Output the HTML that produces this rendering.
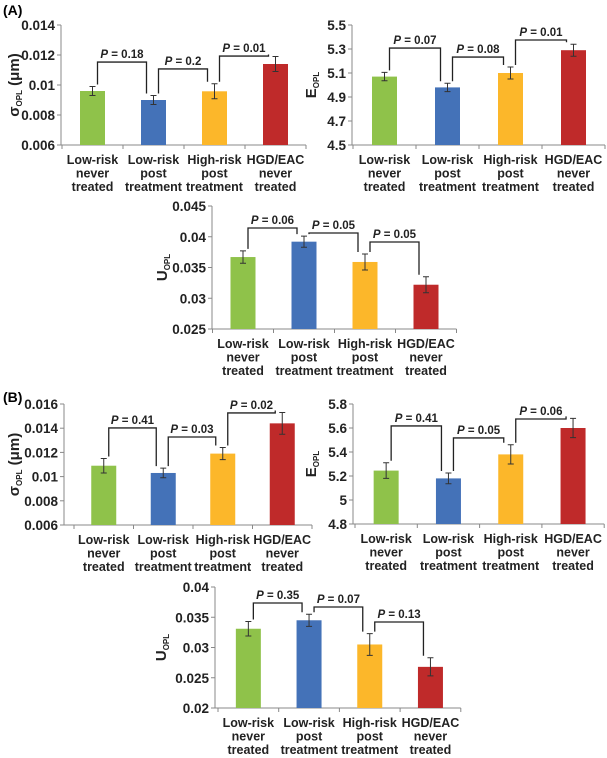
<!DOCTYPE html>
<html><head><meta charset="utf-8"><style>
html,body{margin:0;padding:0;background:#fff;}
svg{display:block;font-family:"Liberation Sans",Arial,sans-serif;}
</style></head><body>
<svg id="fig" width="607" height="758" viewBox="0 0 607 758" xmlns="http://www.w3.org/2000/svg">
<text x="3" y="15" font-size="14" font-weight="bold">(A)</text>
<text x="3" y="402" font-size="14" font-weight="bold">(B)</text>
</svg>
<script>
const categories = [["Low-risk","never","treated"],["Low-risk","post","treatment"],["High-risk","post","treatment"],["HGD/EAC","never","treated"]];
const colors = ["#8fc24a","#4472b8","#fcb72a","#bf2a2a"];
const a1Values = [0.0096,0.0090,0.00958,0.0114];
const a1Errors = [0.0003,0.0003,0.0005,0.0005];
const a1Ticks = ["0.006","0.008","0.01","0.012","0.014"];
const a1P = ["0.18","0.2","0.01"];
const a1BracketTops = [0.01153,0.01107,0.01193];
const a2Values = [5.07,4.98,5.10,5.29];
const a2Errors = [0.035,0.035,0.05,0.05];
const a2Ticks = ["4.5","4.7","4.9","5.1","5.3","5.5"];
const a2P = ["0.07","0.08","0.01"];
const a2BracketTops = [5.308,5.233,5.375];
const a3Values = [0.0367,0.0392,0.0359,0.0322];
const a3Errors = [0.001,0.0009,0.0013,0.0013];
const a3Ticks = ["0.025","0.03","0.035","0.04","0.045"];
const a3P = ["0.06","0.05","0.05"];
const a3BracketTops = [0.04142,0.04061,0.03915];
const b1Values = [0.0109,0.0103,0.0119,0.0144];
const b1Errors = [0.0006,0.0004,0.0005,0.0009];
const b1Ticks = ["0.006","0.008","0.01","0.012","0.014","0.016"];
const b1P = ["0.41","0.03","0.02"];
const b1BracketTops = [0.01402,0.01327,0.01526];
const b2Values = [5.245,5.18,5.38,5.60];
const b2Errors = [0.065,0.045,0.08,0.08];
const b2Ticks = ["4.8","5","5.2","5.4","5.6","5.8"];
const b2P = ["0.41","0.05","0.06"];
const b2BracketTops = [5.617,5.517,5.675];
const b3Values = [0.0331,0.0345,0.0305,0.0268];
const b3Errors = [0.0012,0.001,0.0018,0.0015];
const b3Ticks = ["0.02","0.025","0.03","0.035","0.04"];
const b3P = ["0.35","0.07","0.13"];
const b3BracketTops = [0.03736,0.0367,0.03421];

const NS="http://www.w3.org/2000/svg";
const svg=document.getElementById('fig');
function mk(tag,attrs,parent){const e=document.createElementNS(NS,tag);for(const k in attrs)e.setAttribute(k,attrs[k]);(parent||svg).appendChild(e);return e;}

function panel(id,cfg,values,errors,ticks,pv,tops){
  const g=mk('g',{});
  
  
  const tmin=parseFloat(ticks[0]),tmax=parseFloat(ticks[ticks.length-1]);
  const y=v=>cfg.bottom-(v-tmin)/(tmax-tmin)*(cfg.bottom-cfg.top);
  const cx=i=>cfg.band+cfg.bw*(i+0.5);
  const right=cfg.band+cfg.bw*4;
  const ya=mk('line',{x1:cfg.ax,y1:cfg.top,x2:cfg.ax,y2:cfg.bottom,stroke:'#888','stroke-width':1},g);
  
  const xa=mk('line',{x1:cfg.ax,y1:cfg.bottom,x2:right,y2:cfg.bottom,stroke:'#888','stroke-width':1},g);
  
  ticks.forEach(t=>{
    const v=parseFloat(t),yy=y(v);
    mk('line',{x1:cfg.ax-4,y1:yy,x2:cfg.ax,y2:yy,stroke:'#888'},g);
    const tx=mk('text',{x:cfg.ax-6,y:yy+5,'text-anchor':'end','font-size':13.5,'font-weight':'bold',fill:'#222'},g);
    
    tx.textContent=t;
  });
  for(let i=0;i<=4;i++){const xx=cfg.band+cfg.bw*i;mk('line',{x1:xx,y1:cfg.bottom,x2:xx,y2:cfg.bottom+4,stroke:'#888'},g);}
  const tt=mk('text',{transform:`translate(${cfg.tx},${(cfg.top+cfg.bottom)/2}) rotate(-90)`,'text-anchor':'middle','font-size':15,'font-weight':'bold',fill:'#222'},g);
  
  const s1=mk('tspan',{},tt);s1.textContent=cfg.sym;
  const s2=mk('tspan',{'font-size':8,dy:3},tt);s2.textContent='OPL';
  if(cfg.unit){const s3=mk('tspan',{dy:-3},tt);s3.textContent=' (μm)';}
  values.forEach((v,i)=>{
    const b=mk('rect',{x:cx(i)-12.5,y:y(v),width:25,height:cfg.bottom-y(v),fill:colors[i]},g);
    
    const e=errors[i],x=cx(i);
    const eb=mk('path',{d:`M${x},${y(v+e)}V${y(v-e)}M${x-3},${y(v+e)}H${x+3}M${x-3},${y(v-e)}H${x+3}`,stroke:'#333','stroke-width':1,fill:'none'},g);
    
    categories[i].forEach((l,j)=>{
      const t=mk('text',{x:x,y:cfg.bottom+19+j*13.5,'text-anchor':'middle','font-size':12.5,'font-weight':'bold',fill:'#222'},g);
      
      t.textContent=l;
    });
  });
  pv.forEach((p,i)=>{
    const x1=cx(i)+5,x2=cx(i+1)-7,yt=y(tops[i]);
    const yl=y(values[i]+errors[i])-2,yr=y(values[i+1]+errors[i+1])-2;
    const br=mk('path',{d:`M${x1},${yl}V${yt}H${x2}V${yr}`,stroke:'#222','stroke-width':1.3,fill:'none'},g);
    
    const t=mk('text',{x:(x1+x2)/2,y:yt-4,'text-anchor':'middle','font-size':11.5,'font-weight':'bold',fill:'#222'},g);
    
    const it=mk('tspan',{'font-style':'italic'},t);it.textContent='P';
    const rt=mk('tspan',{},t);rt.textContent=' = '+p;
  });
}
panel('a-sigma',{ax:61,band:62,bw:61,top:25,bottom:145,tx:19,sym:'σ',unit:true},a1Values,a1Errors,a1Ticks,a1P,a1BracketTops);
panel('a-e',{ax:352,band:353,bw:63,top:25,bottom:145,tx:316,sym:'E',unit:false},a2Values,a2Errors,a2Ticks,a2P,a2BracketTops);
panel('a-u',{ax:212,band:212.5,bw:61,top:206,bottom:329,tx:167,sym:'U',unit:false},a3Values,a3Errors,a3Ticks,a3P,a3BracketTops);
panel('b-sigma',{ax:64,band:74,bw:59.5,top:404,bottom:525,tx:19,sym:'σ',unit:true},b1Values,b1Errors,b1Ticks,b1P,b1BracketTops);
panel('b-e',{ax:353,band:355,bw:62.3,top:404,bottom:524,tx:316,sym:'E',unit:false},b2Values,b2Errors,b2Ticks,b2P,b2BracketTops);
panel('b-u',{ax:215,band:218,bw:60.7,top:587,bottom:708,tx:166,sym:'U',unit:false},b3Values,b3Errors,b3Ticks,b3P,b3BracketTops);
</script>
</body></html>
